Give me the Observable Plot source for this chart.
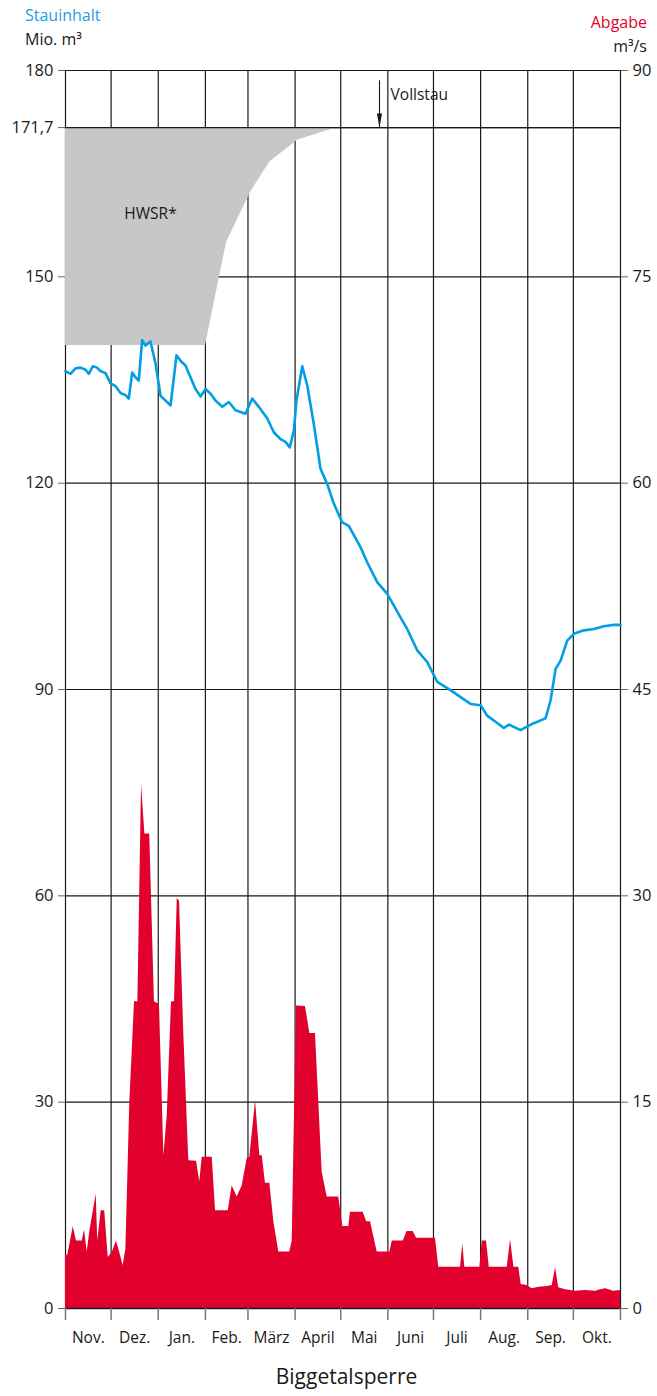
<!DOCTYPE html>
<html><head><meta charset="utf-8">
<script src="https://cdn.jsdelivr.net/npm/d3@7"></script>
<script src="https://cdn.jsdelivr.net/npm/@observablehq/plot@0.6"></script>
<style>
body{margin:0;background:#fff;font-family:"Open Sans",sans-serif;}
#wrap{position:relative;width:657px;height:1396px;overflow:hidden;background:#fff;}
.lbl{position:absolute;white-space:nowrap;font-size:16px;line-height:1;z-index:2;}
#chart svg{position:absolute;left:0;top:50px;z-index:1;}
</style></head><body>
<div id="wrap">
<div class="lbl" style="left:25px;top:7px;color:#1d9fdb">Stauinhalt</div>
<div class="lbl" style="left:25px;top:31px;color:#1a1a1a">Mio. m³</div>
<div class="lbl" style="right:10px;top:14px;color:#e2002d">Abgabe</div>
<div class="lbl" style="right:10px;top:38px;color:#1a1a1a">m³/s</div>
<div id="chart"></div>
<div class="lbl" style="left:18px;width:657px;text-align:center;top:1366px;font-size:21px;color:#1a1a1a">Biggetalsperre</div>
</div>
<script>
// Month boundaries (days from 1 Nov) and labels
const monthStarts = [0,30,61,92,120,151,181,212,242,273,304,334,365];
const monthLabels = ["Nov.","Dez.","Jan.","Feb.","März","April","Mai","Juni","Juli","Aug.","Sep.","Okt."];
// Left axis (Stauinhalt, Mio. m³)
const leftTicks = [0,30,60,90,120,150,171.7,180];
// Right axis (Abgabe, m³/s)
const rightTickLabels = [0,15,30,45,60,75,90];
const leftMax = 180, rightMax = 90;
const vollstauLevel = 171.7;

// Stauinhalt (Mio. m³)
const stauDay = [0,3.3,6.6,9.9,13.2,15.3,18,20.8,23,26.3,29.6,32.9,36.2,39.5,41.6,43.9,46,48.2,50.4,52.6,54.1,55.9,59.2,62.5,65.8,69.1,73,75.6,78.9,82.2,85.5,88.8,92.1,95.4,98.7,103.1,107.4,111.8,118.4,122.8,128.2,132.7,137,141.4,144.7,147.5,150.2,151.9,155.7,159,163.3,167.7,172.1,176.5,182,186.3,194,198.4,205,211.6,220.3,224.7,231.3,237.9,244.5,253.2,259.8,266.4,273,277.3,282.8,288.3,291.6,299.3,302.5,308,315.7,319,322.3,325.6,330,334.3,340.9,347.5,354,360.6,365];
const stauValue = [136.3,135.9,136.7,136.8,136.5,135.9,137,136.8,136.3,136,134.5,134.1,133.1,132.8,132.3,136.1,135.4,134.9,140.8,140,140.3,140.6,137.4,132.7,132,131.3,138.6,137.8,137.1,135.4,133.7,132.6,133.7,133,132,131.1,131.8,130.6,130.1,132.3,130.8,129.4,127.4,126.4,126,125.2,127.7,132,137,134.2,128.6,122.1,119.9,117,114.3,113.8,110.7,108.5,105.6,103.9,100.5,98.8,95.7,94,91.1,89.9,88.9,87.9,87.7,86.2,85.3,84.4,84.9,84.1,84.5,85.1,85.8,88.4,93,94.2,97.1,98.1,98.6,98.8,99.2,99.4,99.4];

// Abgabe (m³/s)
const abgabeDay = [0,1.5,5.1,7.2,11,12.5,14.3,16,20.2,21.2,23.5,25.8,28.1,30.7,33.5,35.7,37.9,39.7,42.3,45.4,47.6,50,52.2,55.4,58.5,61.8,64.7,66.9,69.7,71.7,73.5,75,77.8,81.1,86.2,88.3,89.9,96.5,98.7,107,109.6,112.9,116.2,119.5,121.2,125,127.8,129.4,131.5,134.4,137,140.3,147.5,149.1,151.9,157.8,160.7,164.4,168.8,172.1,179.7,182.4,186.3,187.4,195.8,198,200.6,205,213.3,214.9,222.1,224.7,228.7,230.9,243.3,245.5,259.8,261.3,262.6,272.5,274.1,276.9,278.7,290.5,292.7,294.9,298.1,299.7,303.6,306.9,311.3,316.8,320.1,322.3,324.4,328.9,335.4,342,348.6,351.9,355.2,360.6,365];
const abgabeValue = [3.87,3.87,5.95,4.9,4.9,5.7,4.1,5.6,8.3,4.9,7.1,7.1,3.7,4.05,4.9,4.05,3.1,4.3,15.0,22.3,22.3,38.1,34.5,34.5,22.3,22.1,11.1,14,22.3,22.3,29.8,29.6,20,10.75,10.7,9.2,11,11,7.1,7.1,8.9,8.1,8.9,10.9,11,15.1,11.1,11.1,9.1,9.1,6.3,4.1,4.1,4.9,22.0,21.95,20,20,9.9,8.1,8.1,5.96,5.96,7.0,7.0,6.3,6.3,4.1,4.1,4.9,4.9,5.6,5.6,5.1,5.1,3.0,3.0,4.7,3.0,3.0,4.9,4.9,3.0,3.0,5.0,3.0,3.0,1.75,1.67,1.43,1.55,1.6,1.67,2.96,1.5,1.36,1.26,1.3,1.26,1.36,1.43,1.26,1.3];

// HWSR (Hochwasserschutzraum) lower boundary
const hwsrDay = [0,92.1,105.9,121.7,134.4,152.8,179.1];
const hwsrLower = [140,140,155,162.3,166.7,169.9,171.7];

// Annotations
const annVollstau = {day:206.5, top:178.5, textDay:213.8, textY:176.4, label:"Vollstau"};
const annHwsr = {day:55.9, y:159.1, label:"HWSR*"};

const factor = leftMax / rightMax;
const stau = stauDay.map((d,i)=>({day:d, v:stauValue[i]}));
const abgabe = abgabeDay.map((d,i)=>({day:d, q:abgabeValue[i]}));
const hwsr = hwsrDay.map((d,i)=>({day:d, lower:hwsrLower[i], upper:vollstauLevel}));
const months = monthLabels.map((l,i)=>({label:l, mid:(monthStarts[i]+monthStarts[i+1])/2}));
const rightTicks = rightTickLabels.map(t=>t*factor);

const arrowHead = {draw(ctx){ctx.moveTo(0,0);ctx.lineTo(-2.6,-14);ctx.lineTo(2.6,-14);ctx.closePath();}};

const fmtLeft = d => String(d).replace(".", ",");

const chart = Plot.plot({
  width:657, height:1310,
  marginTop:20, marginBottom:52, marginLeft:65, marginRight:37,
  x:{domain:[0,365]},
  y:{domain:[0,leftMax]},
  style:{fontFamily:"'Open Sans', sans-serif", fontSize:"16px", color:"#1a1a1a", background:"transparent", overflow:"visible"},
  marks:[
    Plot.ruleY(leftTicks, {stroke:"#1a1a1a", strokeWidth:1.2}),
    Plot.ruleX(monthStarts, {stroke:"#1a1a1a", strokeWidth:1.2}),
    Plot.areaY(hwsr, {x:"day", y1:"lower", y2:"upper", fill:"#c6c7c6"}),
    Plot.areaY(abgabe, {x:"day", y1:0, y2:d=>d.q*factor, fill:"#e2002d"}),
    Plot.ruleY([vollstauLevel], {stroke:"#1a1a1a", strokeWidth:1.2}),
    Plot.ruleY([0], {stroke:"#1a1a1a", strokeWidth:1.4}),
    Plot.line(stau, {x:"day", y:"v", stroke:"#009fe3", strokeWidth:2.6, strokeLinejoin:"round"}),
    Plot.axisY(leftTicks, {anchor:"left", tickSize:7, tickPadding:5, tickFormat:fmtLeft, fontSize:16.5, stroke:"#666", label:null}),
    Plot.axisY(rightTicks, {anchor:"right", tickSize:7, tickPadding:5, tickFormat:d=>d/factor, fontSize:16.5, stroke:"#666", label:null}),
    Plot.axisX(monthStarts, {anchor:"bottom", tickSize:12, tickFormat:()=>"", stroke:"#777", strokeWidth:1.5, label:null}),
    Plot.text(months, {x:"mid", frameAnchor:"bottom", dy:30, text:"label", fontSize:15.5, lineAnchor:"middle"}),
    Plot.ruleX([annVollstau], {x:"day", y1:"top", y2:vollstauLevel, stroke:"#1a1a1a", strokeWidth:1.1}),
    Plot.dot([annVollstau], {x:"day", y:vollstauLevel, symbol:arrowHead, fill:"#1a1a1a", stroke:"none"}),
    Plot.text([annVollstau], {x:"textDay", y:"textY", text:"label", textAnchor:"start", fontSize:15.5}),
    Plot.text([annHwsr], {x:"day", y:"y", text:"label", fontSize:15.5})
  ]
});
document.getElementById("chart").appendChild(chart);
</script>
</body></html>
